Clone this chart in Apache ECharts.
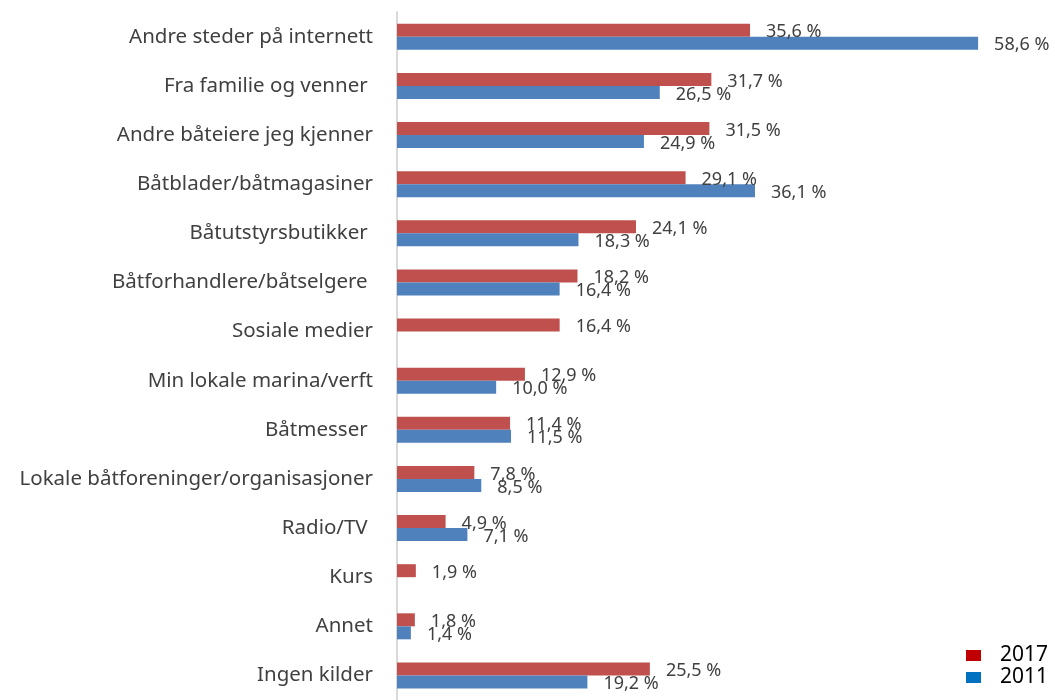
<!DOCTYPE html>
<html>
<head>
<meta charset="utf-8">
<script src="https://cdn.jsdelivr.net/npm/echarts@6/dist/echarts.min.js"></script>
<style>
  html, body { margin: 0; padding: 0; background: #fff; }
  #main { width: 1055px; height: 700px; }
</style>
</head>
<body>
<div id="main"></div>
<script>
var categories = [
  'Andre steder på internett',
  'Fra familie og venner ',
  'Andre båteiere jeg kjenner',
  'Båtblader/båtmagasiner',
  'Båtutstyrsbutikker ',
  'Båtforhandlere/båtselgere ',
  'Sosiale medier',
  'Min lokale marina/verft',
  'Båtmesser ',
  'Lokale båtforeninger/organisasjoner',
  'Radio/TV ',
  'Kurs',
  'Annet',
  'Ingen kilder'
];
var values2017 = [35.6, 31.7, 31.5, 29.1, 24.1, 18.2, 16.4, 12.9, 11.4, 7.8, 4.9, 1.9, 1.8, 25.5];
var values2011 = [58.6, 26.5, 24.9, 36.1, 18.3, 16.4, null, 10.0, 11.5, 8.5, 7.1, null, 1.4, 19.2];

var myChart = echarts.init(document.getElementById('main'));

function pct(p) {
  return p.value.toFixed(1).replace('.', ',') + ' %';
}

var labelStyle = {
  show: true,
  position: 'right',
  distance: 16,
  offset: [0, 2],
  color: '#404040',
  fontFamily: 'Noto Sans',
  fontSize: 18,
  formatter: pct
};

var opt = {
  backgroundColor: '#fff',
  animation: false,
  grid: { left: 397, top: 12.3, width: 595, height: 692.5, containLabel: false },
  legend: {
    orient: 'vertical',
    left: 961,
    top: 640,
    itemWidth: 15,
    itemHeight: 11,
    itemGap: 1,
    textStyle: { fontFamily: 'Noto Sans', fontSize: 21, color: '#000', padding: [0, 0, 0, 14] },
    data: [
      { name: '2017', icon: 'rect', itemStyle: { color: '#c00000' } },
      { name: '2011', icon: 'rect', itemStyle: { color: '#0070c0' } }
    ]
  },
  xAxis: {
    type: 'value',
    min: 0,
    max: 60,
    show: false
  },
  yAxis: {
    type: 'category',
    inverse: true,
    data: categories,
    axisLine: { show: true, lineStyle: { color: '#d9d9d9', width: 2 } },
    axisTick: { show: false },
    axisLabel: { margin: 24, color: '#404040', fontFamily: 'Noto Sans', fontSize: 20.5 }
  },
  series: [
    {
      name: '2017',
      type: 'bar',
      barWidth: 13,
      barGap: 0,
      itemStyle: { color: '#c0504d' },
      label: labelStyle,
      data: values2017
    },
    {
      name: '2011',
      type: 'bar',
      barWidth: 13,
      barGap: 0,
      itemStyle: { color: '#4f81bd' },
      label: labelStyle,
      data: values2011
    }
  ]
};
myChart.setOption(opt);
</script>
</body>
</html>
